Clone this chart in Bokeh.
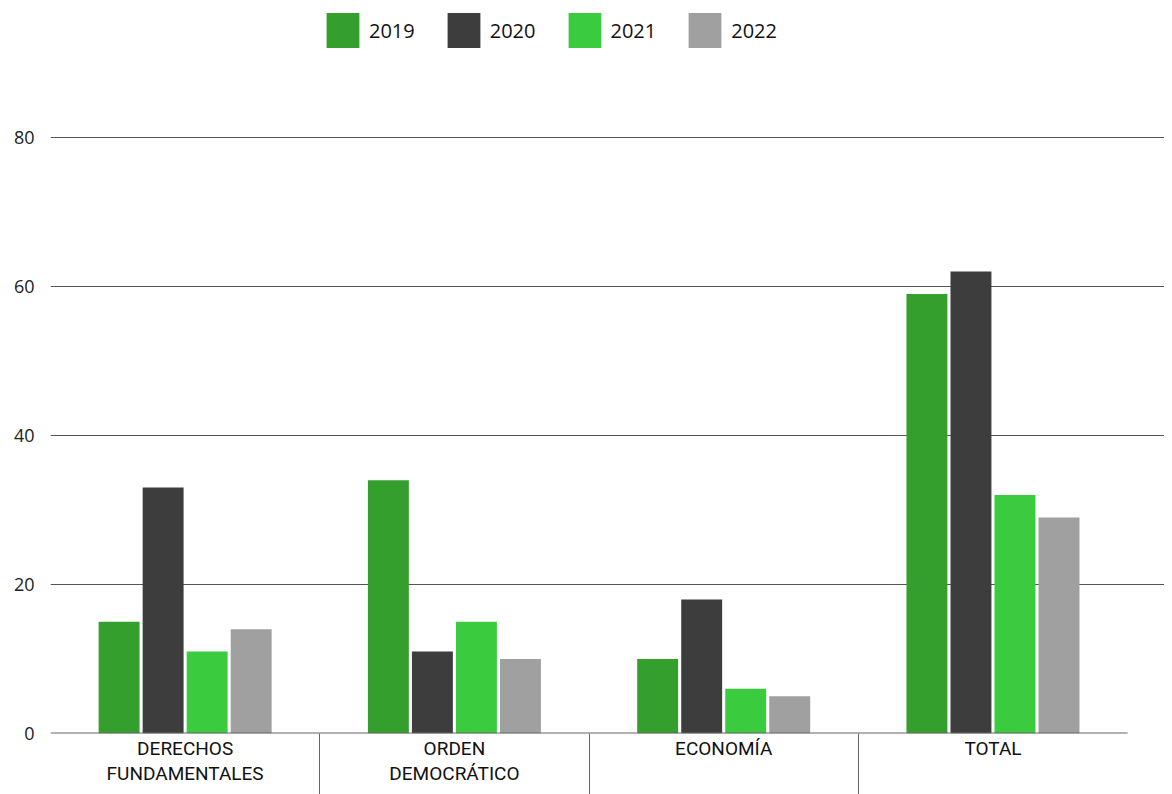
import numpy as np
from bokeh.plotting import figure
from bokeh.models import ColumnDataSource, Range1d, FixedTicker, Legend, LegendItem
from bokeh.transform import dodge
from bokeh.embed import file_html
from bokeh.resources import INLINE

categories = ["DERECHOS\nFUNDAMENTALES", "ORDEN\nDEMOCRÁTICO", "ECONOMÍA", "TOTAL"]
years = ["2019", "2020", "2021", "2022"]
v2019 = [15, 34, 10, 59]
v2020 = [33, 11, 18, 62]
v2021 = [11, 15, 6, 32]
v2022 = [14, 10, 5, 29]
colors = ["#349f2d", "#3d3d3d", "#3acc3e", "#a0a0a0"]
y_ticks = [0, 20, 40, 60, 80]

x = np.arange(len(categories)) + 0.5
src = ColumnDataSource(dict(x=x, y2019=v2019, y2020=v2020, y2021=v2021, y2022=v2022))

p = figure(width=1164, height=794, output_backend="svg", toolbar_location=None,
           x_range=Range1d(0, 4.137), y_range=Range1d(0, 97.3),
           min_border_left=50, min_border_right=0, min_border_top=8, min_border_bottom=61)
p.outline_line_color = None
p.xgrid.grid_line_color = None
p.ygrid.ticker = FixedTicker(ticks=[t for t in y_ticks if t > 0])
p.ygrid.grid_line_color = "#555555"
p.ygrid.grid_line_width = 1

step = 0.1635
offsets = [-1.5 * step, -0.5 * step, 0.5 * step, 1.5 * step]
renderers = []
for yr, col, off in zip(years, colors, offsets):
    r = p.vbar(x=dodge("x", off), top="y" + yr, width=0.152, bottom=0, source=src,
               fill_color=col, line_color=None)
    renderers.append(r)

# baseline under the categories
p.segment(x0=[0], x1=[len(categories)], y0=[0], y1=[0], line_color="#666666", line_width=2)

# y axis
p.yaxis.ticker = FixedTicker(ticks=y_ticks)
p.yaxis.axis_line_color = None
p.yaxis.major_tick_line_color = None
p.yaxis.minor_tick_line_color = None
p.yaxis.major_label_standoff = 10
p.yaxis.major_label_text_font = "Open Sans"
p.yaxis.major_label_text_font_size = "18px"
p.yaxis.major_label_text_color = "#222222"

# x axis
p.xaxis.ticker = FixedTicker(ticks=list(x), minor_ticks=list(np.arange(1, len(categories))))
p.xaxis.axis_line_color = None
p.xaxis.major_tick_line_color = None
p.xaxis.major_tick_out = 0
p.xaxis.major_tick_in = 0
p.xaxis.minor_tick_line_color = "#666666"
p.xaxis.minor_tick_out = 61
p.xaxis.minor_tick_in = 0
p.xaxis.major_label_overrides = {float(xi): c for xi, c in zip(x, categories)}
p.xaxis.major_label_standoff = -58
p.xaxis.major_label_text_font = "Roboto"
p.xaxis.major_label_text_font_size = "19px"
p.xaxis.major_label_text_line_height = 1.1
p.xaxis.major_label_text_color = "#111111"

legend = Legend(items=[LegendItem(label=yr, renderers=[r]) for yr, r in zip(years, renderers)],
                orientation="horizontal", location=(272, 681),
                glyph_width=41, glyph_height=44, label_standoff=6, spacing=28,
                padding=0, margin=0, border_line_color=None, background_fill_alpha=0,
                label_text_font="Open Sans", label_text_font_size="20px",
                label_text_color="#111111")
p.add_layout(legend)

open("out.html", "w").write(file_html(p, INLINE))
